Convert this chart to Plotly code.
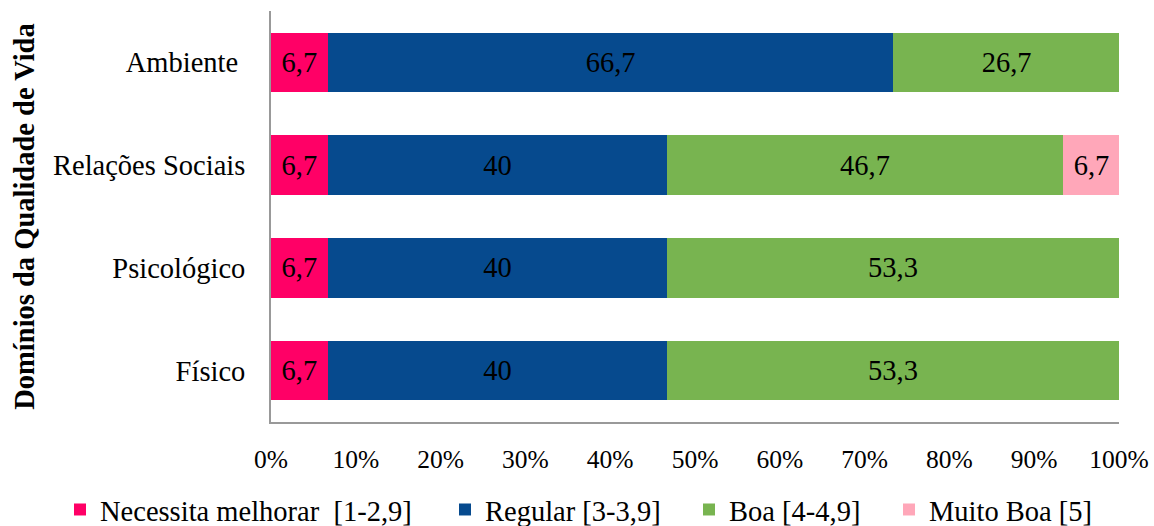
import plotly.graph_objects as go

# Domains (top to bottom) and the share of each rating band, in %
dominios = ["Ambiente ", "Relações Sociais", "Psicológico", "Físico"]
necessita_melhorar = [6.7, 6.7, 6.7, 6.7]
regular = [66.7, 40, 40, 40]
boa = [26.7, 46.7, 53.3, 53.3]
muito_boa = [None, 6.7, None, None]

series = [
    ("Necessita melhorar  [1-2,9]", necessita_melhorar, "#FF0066"),
    ("Regular [3-3,9]", regular, "#064A8E"),
    ("Boa [4-4,9]", boa, "#78B450"),
    ("Muito Boa [5]", muito_boa, "#FFA7B9"),
]

x_ticks = list(range(0, 101, 10))
x_tick_labels = [f"{t}%" for t in x_ticks]

FONT = "Liberation Serif"

# left edge (px) of each legend entry along the bottom row
legend_left_px = [60, 445, 689, 889]
PLOT_LEFT, PLOT_W = 271, 848


def fmt(v):
    if v is None:
        return None
    return f"{v:g}".replace(".", ",")


legend_ids = ["legend", "legend2", "legend3", "legend4"]

fig = go.Figure()
for (name, vals, color), lid in zip(series, legend_ids):
    fig.add_trace(go.Bar(
        y=dominios,
        x=vals,
        name=name,
        legend=lid,
        orientation="h",
        marker=dict(color=color, line=dict(width=0)),
        text=[fmt(v) for v in vals],
        textposition="inside",
        insidetextanchor="middle",
        textangle=0,
        constraintext="none",
        insidetextfont=dict(family=FONT, size=28.5, color="black"),
        width=0.58,
        hoverinfo="skip",
    ))

legend_style = dict(
    orientation="h",
    xref="paper",
    yref="paper",
    xanchor="left",
    y=-0.214,
    yanchor="middle",
    font=dict(family=FONT, size=28.5, color="black"),
    itemclick=False,
    itemdoubleclick=False,
    bgcolor="rgba(0,0,0,0)",
)
legends = {
    lid: dict(legend_style, x=(px - PLOT_LEFT) / PLOT_W)
    for lid, px in zip(legend_ids, legend_left_px)
}

fig.update_layout(
    barmode="stack",
    width=1154,
    height=526,
    margin=dict(l=271, r=35, t=11, b=104, autoexpand=False),
    paper_bgcolor="white",
    plot_bgcolor="white",
    font=dict(family=FONT, color="black"),
    xaxis=dict(
        range=[0, 100],
        tickvals=x_ticks,
        ticktext=x_tick_labels,
        showgrid=False,
        zeroline=False,
        showline=True,
        linecolor="#999999",
        linewidth=2,
        ticks="",
        tickfont=dict(family=FONT, size=25.5, color="black"),
        ticklabelstandoff=13,
        automargin=False,
        fixedrange=True,
    ),
    yaxis=dict(
        categoryorder="array",
        categoryarray=dominios[::-1],
        showgrid=False,
        zeroline=False,
        showline=True,
        linecolor="#999999",
        linewidth=2,
        ticks="",
        tickfont=dict(family=FONT, size=28.5, color="black"),
        ticklabelstandoff=18,
        title=dict(
            text="<b>Domínios da Qualidade de Vida</b>",
            font=dict(family=FONT, size=28.5, color="black"),
            standoff=10,
        ),
        automargin=False,
        fixedrange=True,
    ),
    showlegend=True,
    **legends,
)

fig.write_html("out.html")
